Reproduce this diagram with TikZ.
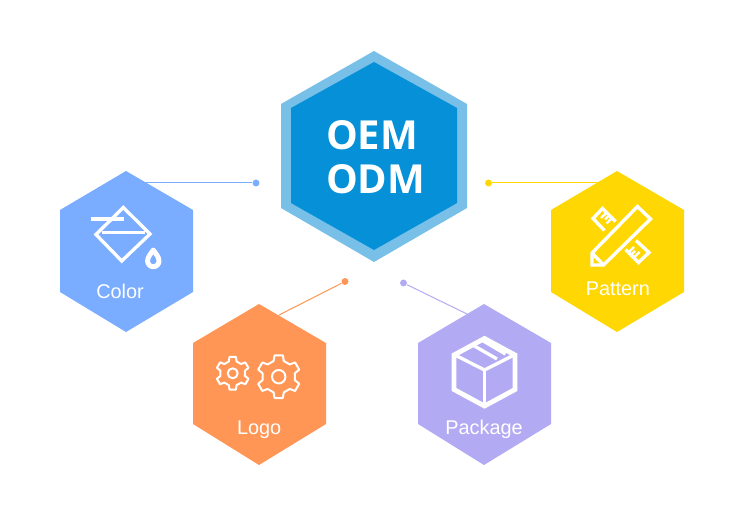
\documentclass[tikz,border=0pt]{standalone}
\usepackage{fontspec}
\setmainfont{Liberation Sans}
\newfontfamily\oemfont{Open Sans}

\definecolor{colorblue}{RGB}{122,172,255}
\definecolor{logoorange}{RGB}{255,150,85}
\definecolor{packagepurple}{RGB}{178,171,243}
\definecolor{patternyellow}{RGB}{255,216,4}
\definecolor{oemlight}{RGB}{120,192,232}
\definecolor{oemdark}{RGB}{5,144,216}

\tikzset{every picture/.style={line width=0.75pt}}
\tikzset{
  connector/.style={line width=0.75pt},
  linedot/.style={circle,inner sep=0pt,minimum size=5.2pt,draw=none},
  iconline/.style={draw=white,line width=2.5pt,line join=miter},
  thinicon/.style={draw=white,line width=1.8pt,line join=miter},
  gearline/.style={draw=white,line width=1.5pt,line join=round},
  labeltext/.style={text=white,anchor=base,inner sep=0.75pt,font=\fontsize{14.9}{16}\selectfont},
  biglabel/.style={anchor=base west,inner sep=0pt,text=white,font=\oemfont\bfseries\fontsize{30}{33}\selectfont},
}

\begin{document}
\begin{tikzpicture}[x=0.75pt,y=0.75pt,yscale=-1,xscale=1]
\useasboundingbox (0,0) rectangle (750,524);

%Shape: Center Hexagon
\fill [oemlight] (374,51) -- (467,104) -- (467,208) -- (374,262) -- (281,208) -- (281,104) -- cycle;
\fill [oemdark] (374,62) -- (457,108) -- (457,203) -- (374,250) -- (291,203) -- (291,108) -- cycle;
%Shape: Color Hexagon
\fill [colorblue] (126,171) -- (193,210) -- (193,292) -- (126,332) -- (60,292) -- (60,210) -- cycle;
%Shape: Pattern Hexagon
\fill [patternyellow] (617,171) -- (684,210) -- (684,292) -- (617,332) -- (551,292) -- (551,210) -- cycle;
%Shape: Logo Hexagon
\fill [logoorange] (259,304) -- (326,343) -- (326,424) -- (259,465) -- (193,424) -- (193,343) -- cycle;
%Shape: Package Hexagon
\fill [packagepurple] (484,304) -- (551,343) -- (551,424) -- (484,465) -- (418,424) -- (418,343) -- cycle;

% Line ends
\coordinate (coloredge) at (146,183);
\coordinate (patternedge) at (600,183);
\coordinate (logoedge) at (279,315);
\coordinate (packageedge) at (467,314);
% Line dots
\draw (256,183) node [linedot,fill=colorblue] (colordot) {};
\draw (488.5,183) node [linedot,fill=patternyellow] (patterndot) {};
\draw (345,281.5) node [linedot,fill=logoorange] (logodot) {};
\draw (403.5,283) node [linedot,fill=packagepurple] (packagedot) {};
%Straight Lines
\draw [connector,colorblue] (colordot) -- (coloredge);
\draw [connector,patternyellow] (patterndot) -- (patternedge);
\draw [connector,logoorange] (logodot) -- (logoedge);
\draw [connector,packagepurple] (packagedot) -- (packageedge);

%Bucket Icon
\draw [iconline] (123.3,207.5) -- (150,234) -- (121.7,261) -- (96,234.5) -- cycle;
\draw [iconline] (101.7,232.7) -- (145,232.7);
\draw [draw=white,line width=3pt] (91,219.3) -- (124.3,219.3);
%Drop Icon
\draw [draw=white,line width=3.7pt,line join=round] (153.3,250) .. controls (156,254) and (159,257) .. (159,261) .. controls (159,264.2) and (156.5,266.7) .. (153.3,266.7) .. controls (150.1,266.7) and (147.6,264.2) .. (147.6,261) .. controls (147.6,257) and (150.6,254) .. (153.3,250) -- cycle;

%Pencil Icon
\draw [iconline] (592,253) -- (637.5,206.5) -- (650.5,219) -- (603.5,265) -- (592,265) -- cycle;
\draw [iconline] (592,253) -- (603.5,265);
%Ruler Icon
\draw [iconline] (604.5,230.5) -- (593,218.5) -- (602.5,208.5) -- (615.5,221.5);
\draw [thinicon] (606.3,212.8) -- (601,218);
\draw [thinicon] (609,215.5) -- (605,219.5);
\draw [thinicon] (611.7,218.2) -- (606.5,223.5);
\draw [iconline] (636,240.5) -- (649,252.5) -- (638.5,262.5) -- (625.5,249.5);
\draw [thinicon] (628.5,252.5) -- (634,247);
\draw [thinicon] (631,255) -- (635,251);
\draw [thinicon] (634,257.5) -- (639.5,252);

%Gear Icons
\foreach \gearx/\geary/\gearout/\gearin/\gearhole in {232.7/373.3/16.7/12.5/5,278.7/376.7/21.7/16.5/6.7}{
  \begin{scope}[shift={(\gearx,\geary)}]
    \draw [gearline] (12:\gearin) \foreach \tooth in {30,90,...,330}{ -- (\tooth-18:\gearin) -- (\tooth-11:\gearout) -- (\tooth+11:\gearout) -- (\tooth+18:\gearin) } -- cycle;
    \draw [gearline] (0,0) circle [radius=\gearhole];
  \end{scope}
}

%Box Icon
\draw [draw=white,line width=3.6pt,line join=miter] (484.5,338.5) -- (515,355) -- (515,389.5) -- (484.5,406) -- (454,389.5) -- (454,355) -- cycle;
\draw [iconline] (454,354.5) -- (484.5,370) -- (515,354.5);
\draw [iconline] (484.5,370) -- (484.5,406.5);
\draw [iconline] (473.5,345.5) -- (497,359);
\draw [iconline] (482.5,340.5) -- (505.5,354);

% Text Node
\draw (325.5,150) node [biglabel] (oemlabel) {OEM};
% Text Node
\draw (325.5,194) node [biglabel] (odmlabel) {ODM};
% Text Node
\draw (120,298) node [labeltext] (colorlabel) {Color};
% Text Node
\draw (617.8,295.7) node [labeltext] (patternlabel) {Pattern};
% Text Node
\draw (259.2,434) node [labeltext] (logolabel) {Logo};
% Text Node
\draw (484,434.3) node [labeltext] (packagelabel) {Package};

\end{tikzpicture}
\end{document}
